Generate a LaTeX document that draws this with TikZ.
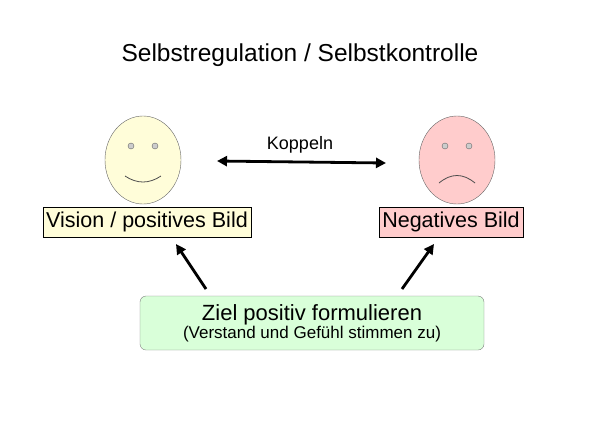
\documentclass[tikz,border=0pt]{standalone}
\usepackage{fontspec}
\setmainfont{Liberation Sans}
\usetikzlibrary{arrows.meta,shapes.geometric}
\begin{document}
\begin{tikzpicture}[x=1pt,y=-1pt,
  face/.style={draw=black!60,ellipse,minimum width=76pt,minimum height=88pt},
  lbl/.style={draw=black,inner sep=3pt,minimum height=30pt,font=\fontsize{21.5}{24}\selectfont},
  arr/.style={-{Triangle[length=10pt,width=10pt]},line width=2.8pt},
  eye/.style={draw=black!60,circle,inner sep=0pt,minimum size=6pt,fill=black!20}]
\useasboundingbox (0,0) rectangle (600,424);
\node (title) at (300,55) {\fontsize{24.5}{28}\selectfont Selbstregulation / Selbstkontrolle};
\node[face,fill=yellow!15] (happy) at (143,160) {};
\node[eye] (h1) at (131,146) {};
\node[eye] (h2) at (155,146) {};
\draw[black!70,thick] (125,176) .. controls (137,184) and (149,184) .. (161,176);
\node[face,fill=red!20] (sad) at (457,160) {};
\node[eye] (s1) at (445,146) {};
\node[eye] (s2) at (469,146) {};
\draw[black!70,thick] (439,183) .. controls (451,173) and (463,173) .. (475,183);
\node[lbl,fill=yellow!15] (vis) at (147,222) {Vision / positives Bild};
\node[lbl,fill=red!20] (neg) at (451,222) {Negatives Bild};
\node[draw=black!50,fill=green!15,rounded corners=6pt,minimum width=344pt,minimum height=54pt,align=center] (ziel) at (312,323)
 {{\fontsize{22}{24}\selectfont Ziel positiv formulieren}\\[0pt]{\fontsize{17}{19}\selectfont (Verstand und Gefühl stimmen zu)}};
\coordinate (k1) at (217,161);
\coordinate (k2) at (386,163);
\draw[{Triangle[length=10pt,width=10pt]}-{Triangle[length=10pt,width=10pt]},line width=2.8pt] (k1) -- (k2);
\node (kop) at (300,145) {\fontsize{18}{20}\selectfont Koppeln};
\coordinate (a1) at (206,289);
\coordinate (a2) at (402,289);
\coordinate (b1) at (176,244);
\coordinate (b2) at (434,244);
\draw[arr] (a1) -- (b1);
\draw[arr] (a2) -- (b2);
\end{tikzpicture}
\end{document}
